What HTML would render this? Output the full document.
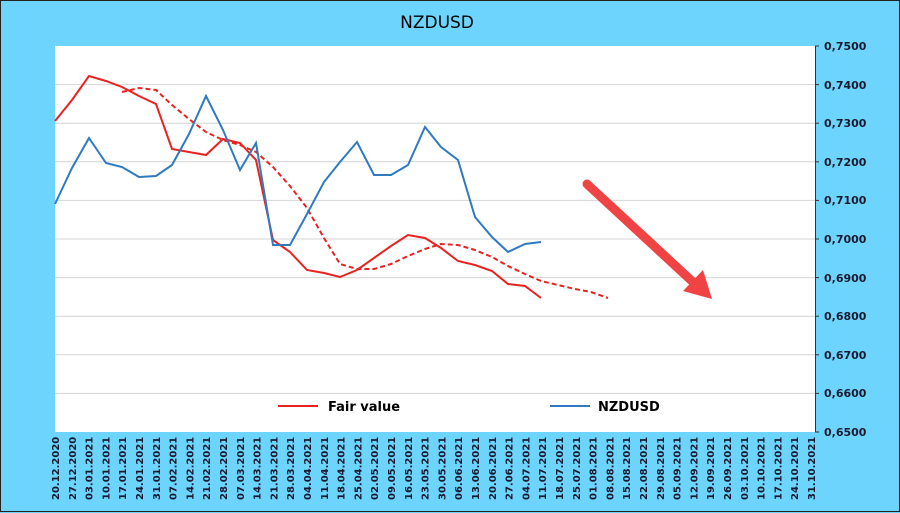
<!DOCTYPE html>
<html><head><meta charset="utf-8"><style>
html,body{margin:0;padding:0;background:#6dd4fd;}
svg{display:block;}
text{font-family:"DejaVu Sans","Liberation Sans",sans-serif;}
</style></head><body>
<svg width="900" height="513" viewBox="0 0 900 513" xmlns="http://www.w3.org/2000/svg">
<rect x="0.5" y="0.5" width="899" height="511" fill="#6dd4fd" stroke="#222" stroke-width="1"/>
<text x="437" y="28" font-size="17" text-anchor="middle" fill="#000">NZDUSD</text>
<rect x="55" y="46" width="760" height="386" fill="#fff"/>
<g stroke="#d4d4d4" stroke-width="1">
<line x1="55" x2="815" y1="84.6" y2="84.6"/><line x1="55" x2="815" y1="123.2" y2="123.2"/>
<line x1="55" x2="815" y1="161.8" y2="161.8"/><line x1="55" x2="815" y1="200.4" y2="200.4"/>
<line x1="55" x2="815" y1="239" y2="239"/><line x1="55" x2="815" y1="277.6" y2="277.6"/>
<line x1="55" x2="815" y1="316.2" y2="316.2"/><line x1="55" x2="815" y1="354.8" y2="354.8"/>
<line x1="55" x2="815" y1="393.4" y2="393.4"/>
</g>
<line x1="815.5" y1="46" x2="815.5" y2="432" stroke="#333"/>
<g stroke="#333">
<line x1="815" x2="819" y1="46" y2="46"/><line x1="815" x2="819" y1="84.6" y2="84.6"/><line x1="815" x2="819" y1="123.2" y2="123.2"/><line x1="815" x2="819" y1="161.8" y2="161.8"/><line x1="815" x2="819" y1="200.4" y2="200.4"/><line x1="815" x2="819" y1="239" y2="239"/><line x1="815" x2="819" y1="277.6" y2="277.6"/><line x1="815" x2="819" y1="316.2" y2="316.2"/><line x1="815" x2="819" y1="354.8" y2="354.8"/><line x1="815" x2="819" y1="393.4" y2="393.4"/><line x1="815" x2="819" y1="432" y2="432"/>
</g>
<g font-size="11" font-weight="bold" fill="#1a1a2e">
<text x="824" y="50">0,7500</text><text x="824" y="89">0,7400</text><text x="824" y="127">0,7300</text><text x="824" y="166">0,7200</text><text x="824" y="204">0,7100</text><text x="824" y="243">0,7000</text><text x="824" y="282">0,6900</text><text x="824" y="320">0,6800</text><text x="824" y="359">0,6700</text><text x="824" y="397">0,6600</text><text x="824" y="436">0,6500</text>
</g>
<g font-size="10" font-weight="bold" fill="#1a1a2e" id="dates"></g>
<polyline fill="none" stroke="#e8231f" stroke-width="2" stroke-dasharray="5,3" points="122,92 139,88 156,90 172,105 189,119 206,132 223,140 240,145 256,152 273,167 290,186 307,208 324,238 340,264 357,269 374,269 391,264 408,256 425,249 441,244 458,245 475,250 492,257 508,266 525,274 541,281 558,285 575,289 591,292 608,298"/>
<polyline fill="none" stroke="#e8231f" stroke-width="2" points="55,121 72,100 89,76 106,81 122,87 139,96 156,104 172,149 189,152 206,155 223,139 240,143 256,160 273,240 290,252 307,270 324,273 340,277 357,270 374,258 391,246 408,235 425,238 441,248 458,261 475,265 492,271 508,284 525,286 541,298"/>
<polyline fill="none" stroke="#2f7ac0" stroke-width="2" points="55,204 72,168 89,138 106,163 122,167 139,177 156,176 172,165 189,134 206,96 223,130 240,170 256,143 273,245 290,245 307,214 324,182 340,162 357,142 374,175 391,175 408,165 425,127 441,147 458,160 475,217 492,237 508,252 525,244 541,242"/>
<line x1="587" y1="184" x2="694" y2="283" stroke="#f04444" stroke-width="9" stroke-linecap="round"/>
<polygon points="712,299 683,291 703,270" fill="#f04444"/>
<line x1="278" y1="406" x2="318" y2="406" stroke="#e8231f" stroke-width="2"/>
<text x="328" y="411" font-size="13" font-weight="bold">Fair value</text>
<line x1="550" y1="406" x2="590" y2="406" stroke="#2f7ac0" stroke-width="2"/>
<text x="598" y="411" font-size="13" font-weight="bold">NZDUSD</text>
<script>
(function(){
var g=document.getElementById('dates');
var d=new Date(Date.UTC(2020,11,20));
for(var i=0;i<46;i++){
 var s=('0'+d.getUTCDate()).slice(-2)+'.'+('0'+(d.getUTCMonth()+1)).slice(-2)+'.'+d.getUTCFullYear();
 var x=55+16.8*i+4;
 var t=document.createElementNS('http://www.w3.org/2000/svg','text');
 t.setAttribute('transform','translate('+x+',500) rotate(-90)');
 t.textContent=s; g.appendChild(t);
 d=new Date(d.getTime()+7*86400000);
}
})();
</script>
</svg>
</body></html>
